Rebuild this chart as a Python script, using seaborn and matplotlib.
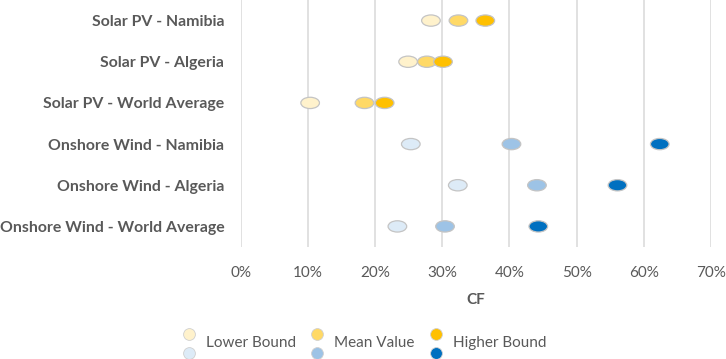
import numpy as np
import pandas as pd
import matplotlib
matplotlib.use("Agg")
import matplotlib.pyplot as plt
import seaborn as sns
from matplotlib.path import Path
from matplotlib.transforms import Affine2D
from matplotlib.lines import Line2D
from matplotlib.legend_handler import HandlerBase
from matplotlib.ticker import PercentFormatter

categories = [
    "Solar PV - Namibia",
    "Solar PV - Algeria",
    "Solar PV - World Average",
    "Onshore Wind - Namibia",
    "Onshore Wind - Algeria",
    "Onshore Wind - World Average",
]
tech = ["Solar", "Solar", "Solar", "Wind", "Wind", "Wind"]
lower_bound = [28.3, 24.9, 10.3, 25.3, 32.3, 23.3]
mean_value = [32.4, 27.7, 18.4, 40.3, 44.1, 30.4]
higher_bound = [36.4, 30.1, 21.4, 62.4, 56.1, 44.3]
bound_names = ["Lower Bound", "Mean Value", "Higher Bound"]

palette = {
    "Solar|Lower Bound": "#FFF2CC",
    "Solar|Mean Value": "#FFD966",
    "Solar|Higher Bound": "#FFC000",
    "Wind|Lower Bound": "#DDEBF7",
    "Wind|Mean Value": "#9DC3E6",
    "Wind|Higher Bound": "#0070C0",
}

rows = []
for name, series in zip(bound_names, [lower_bound, mean_value, higher_bound]):
    for cat, t, v in zip(categories, tech, series):
        rows.append({"category": cat, "bound": name, "key": t + "|" + name, "CF": v})
df = pd.DataFrame(rows)

sns.set_theme(style="white")
plt.rcParams["font.family"] = ["Lato", "DejaVu Sans"]
text_color = "#595959"

fig = plt.figure(figsize=(7.26, 3.59), dpi=100)
ax = fig.add_axes([0.332, 0.312, 0.647, 0.688])

# ellipse marker
ellipse = Path.unit_circle().transformed(Affine2D().scale(1.65, 1.0))

sns.scatterplot(data=df, x="CF", y="category", hue="key", palette=palette,
                marker=ellipse, s=180, edgecolor="#C4C4C4", linewidth=0.9,
                legend=False, ax=ax, zorder=3)

ax.set_xlim(0, 70)
ax.set_ylim(5.5, -0.5)
ax.set_xticks(np.arange(0, 71, 10))
ax.xaxis.set_major_formatter(PercentFormatter(decimals=0))
ax.grid(axis="x", color="#D9D9D9", linewidth=1.1)
ax.grid(axis="y", visible=False)
for s in ax.spines.values():
    s.set_visible(False)
ax.tick_params(axis="x", length=0, pad=14, labelsize=11, labelcolor=text_color)
ax.tick_params(axis="y", length=0, pad=12)
for lab in ax.get_yticklabels():
    lab.set_fontweight("bold")
    lab.set_fontsize(11.4)
    lab.set_color(text_color)
ax.set_ylabel("")
ax.set_xlabel("CF", fontsize=11, fontweight="bold", color=text_color, labelpad=9)


class StackHandler(HandlerBase):
    def create_artists(self, legend, orig_handle, xdescent, ydescent,
                       width, height, fontsize, trans):
        out = []
        for h, y in zip(orig_handle, (height * 1.2, -height * 0.6)):
            ln = Line2D([width / 2 - xdescent], [y - ydescent], linestyle="",
                        marker="o", markersize=8.5,
                        markerfacecolor=h.get_markerfacecolor(),
                        markeredgecolor=h.get_markeredgecolor(),
                        markeredgewidth=0.6)
            ln.set_transform(trans)
            out.append(ln)
        return out


handles = []
for name in bound_names:
    top = Line2D([], [], marker="o", linestyle="", markerfacecolor=palette["Solar|" + name],
                 markeredgecolor="#D0D0D0")
    bot = Line2D([], [], marker="o", linestyle="", markerfacecolor=palette["Wind|" + name],
                 markeredgecolor="#D0D0D0")
    handles.append((top, bot))

leg = fig.legend(handles=handles, labels=bound_names, handler_map={tuple: StackHandler()},
                 loc="center", bbox_to_anchor=(0.501, 0.045), ncol=3, frameon=False,
                 fontsize=11, handlelength=1.0, handletextpad=0.6, columnspacing=0.9)
for t in leg.get_texts():
    t.set_color(text_color)

fig.savefig("out.png", dpi=100)
